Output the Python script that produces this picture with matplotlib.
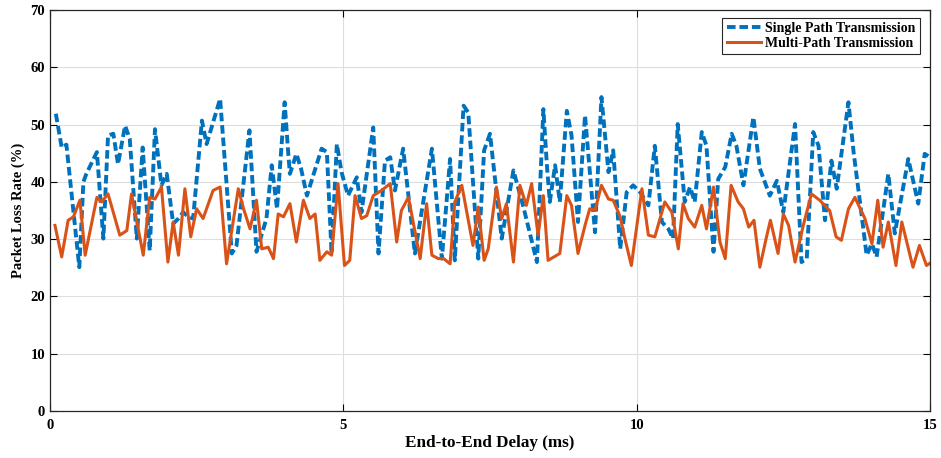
import matplotlib
matplotlib.use("Agg")
import matplotlib.pyplot as plt

plt.rcParams["font.family"] = ["Liberation Serif", "DejaVu Serif"]
plt.rcParams["font.weight"] = "bold"

# single path transmission (delay ms, loss %)
single_x = [0.10, 0.20, 0.28, 0.50, 0.57, 0.62, 0.80, 0.91, 0.99, 1.08, 1.16, 1.28, 1.36,
            1.48, 1.58, 1.70, 1.79, 1.90, 1.99, 2.10, 2.19, 2.27, 2.36, 2.44, 2.59, 2.67,
            2.90, 3.10, 3.18, 3.40, 3.52, 3.69, 3.78, 3.87, 4.00, 4.06, 4.09, 4.20, 4.28,
            4.38, 4.63, 4.72, 4.80, 4.89, 4.97, 5.08, 5.23, 5.31, 5.51, 5.60, 5.71, 5.80,
            5.88, 6.02, 6.22, 6.51, 6.68, 6.82, 6.90, 7.05, 7.13, 7.30, 7.40, 7.50, 7.70,
            7.90, 8.07, 8.30, 8.41, 8.47, 8.52, 8.61, 8.69, 8.81, 8.89, 9.00, 9.12, 9.29,
            9.40, 9.52, 9.60, 9.72, 9.83, 9.94, 10.06, 10.20, 10.31, 10.43, 10.54, 10.62,
            10.70, 10.82, 10.91, 10.99, 11.11, 11.19, 11.31, 11.39, 11.51, 11.62, 11.70,
            11.82, 11.99, 12.10, 12.27, 12.39, 12.50, 12.70, 12.81, 12.90, 13.01, 13.10,
            13.21, 13.32, 13.41, 13.61, 13.70, 13.80, 13.92, 14.01, 14.09, 14.29, 14.40,
            14.63, 14.80, 14.91, 15.00]
single_y = [51.9, 46.0, 46.5, 25.1, 40.0, 41.4, 45.2, 30.1, 48.1, 48.4, 43.1, 49.8, 47.5,
            30.1, 46.0, 28.0, 49.2, 39.4, 41.4, 32.7, 33.6, 34.7, 33.9, 33.6, 50.7, 46.6,
            54.5, 27.5, 28.9, 49.0, 27.8, 33.6, 42.9, 35.3, 53.9, 45.2, 41.4, 44.9, 42.3,
            37.6, 45.8, 45.2, 27.5, 46.6, 41.7, 37.6, 40.8, 34.7, 49.5, 27.5, 43.7, 44.3,
            38.5, 45.8, 27.5, 45.8, 26.6, 44.0, 26.3, 53.3, 52.1, 26.6, 45.5, 48.4, 30.1,
            42.0, 35.6, 26.0, 52.7, 42.9, 36.5, 42.9, 36.5, 52.4, 48.1, 33.0, 51.6, 31.2,
            54.8, 41.7, 45.5, 28.3, 38.2, 39.4, 38.2, 35.9, 46.3, 33.0, 31.8, 30.1,
            50.1, 36.5, 39.1, 36.5, 48.7, 46.3, 27.8, 40.5, 42.6, 48.4, 46.3,
            39.4, 51.3, 42.3, 37.6, 40.2, 34.7, 50.1, 26.0, 26.6, 48.7, 46.3,
            33.3, 43.7, 38.8, 53.9, 45.0, 37.0, 27.2, 29.2, 26.9, 41.4, 31.0,
            44.0, 36.2, 44.9, 44.3]

# multi-path transmission
multi_x = [0.085, 0.20, 0.31, 0.40, 0.51, 0.60, 0.80, 0.88, 0.99, 1.19, 1.31, 1.39, 1.59,
           1.70, 1.79, 1.90, 2.01, 2.10, 2.19, 2.30, 2.40, 2.50, 2.61, 2.78, 2.90, 3.01,
           3.21, 3.30, 3.41, 3.52, 3.61, 3.72, 3.81, 3.89, 3.98, 4.09, 4.20, 4.32, 4.43,
           4.52, 4.60, 4.72, 4.80, 4.91, 5.02, 5.11, 5.20, 5.31, 5.40, 5.51, 5.65, 5.80,
           5.91, 5.99, 6.11, 6.31, 6.42, 6.51, 6.62, 6.71, 6.82, 6.90, 7.02, 7.21, 7.30,
           7.40, 7.47, 7.61, 7.70, 7.78, 7.90, 8.01, 8.12, 8.21, 8.32, 8.41, 8.49, 8.69,
           8.81, 8.89, 9.00, 9.12, 9.20, 9.29, 9.40, 9.52, 9.60, 9.72, 9.80, 9.91, 10.09,
           10.20, 10.31, 10.48, 10.60, 10.71, 10.79, 10.88, 10.99, 11.11, 11.19, 11.31,
           11.42, 11.51, 11.61, 11.73, 11.82, 11.91, 12.00, 12.10, 12.22, 12.28, 12.41,
           12.50, 12.59, 12.70, 12.84, 12.98, 13.12, 13.29, 13.40, 13.49, 13.61, 13.72,
           13.89, 14.01, 14.11, 14.20, 14.29, 14.42, 14.52, 14.71, 14.82, 14.94, 15.00]
multi_y = [32.4, 26.9, 33.3, 33.9, 36.8, 27.2, 37.3, 36.5, 37.9, 30.7, 31.5, 37.9, 27.2,
           37.3, 37.0, 39.1, 26.0, 33.0, 27.2, 38.8, 30.4, 35.3, 33.6, 38.5, 39.1, 25.7,
           38.8, 35.3, 31.8, 36.8, 28.3, 28.6, 26.6, 34.4, 33.9, 36.2, 29.5, 36.8, 33.6,
           34.4, 26.3, 27.8, 27.2, 39.7, 25.4, 26.3, 37.6, 33.6, 34.1, 37.6, 38.5, 39.7,
           29.5, 35.0, 37.3, 26.6, 36.2, 27.2, 26.6, 26.6, 25.7, 36.5, 39.4, 28.9, 35.6,
           26.3, 28.3, 39.1, 33.6, 36.2, 26.0, 39.4, 35.9, 39.7, 30.7, 37.6, 26.3, 27.5,
           37.6, 35.9, 27.5, 32.4, 35.3, 35.0, 39.4, 37.0, 36.8, 33.9, 30.1, 25.4, 38.8,
           30.7, 30.4, 36.5, 34.7, 28.3, 36.2, 33.6, 32.1, 35.9, 31.8, 39.1,
           29.5, 26.6, 39.4, 36.5, 35.3, 32.1, 33.3, 25.1, 30.7, 33.3, 27.5,
           34.4, 32.4, 26.0, 32.4, 37.9, 36.8, 35.0, 30.4, 29.8, 35.3, 37.3,
           33.6, 29.2, 36.8, 28.6, 33.0, 25.4, 33.0, 25.1, 28.9, 25.4, 25.8]

BLUE = "#0072BD"
ORANGE = "#D95319"

fig = plt.figure(figsize=(9.41, 4.58), dpi=100)
ax = fig.add_axes([0.0531, 0.1026, 0.9352, 0.8755])

ax.plot(single_x, single_y, color=BLUE, linestyle=(0, (2.2, 1.0)), linewidth=2.8,
        label="Single Path Transmission")
ax.plot(multi_x, multi_y, color=ORANGE, linestyle="-", linewidth=2.2,
        label="Multi-Path Transmission")

ax.set_xlim(0, 15)
ax.set_ylim(0, 70)
ax.set_xticks([0, 5, 10, 15])
ax.set_yticks(range(0, 71, 10))
ax.tick_params(direction="in", top=True, right=True, labelsize=10.5, length=5, width=0.8)
ax.tick_params(axis="x", pad=6)
for lbl in ax.get_xticklabels() + ax.get_yticklabels():
    lbl.set_fontweight("bold")
ax.grid(True, color="#dedede", linewidth=0.8)
ax.set_axisbelow(True)
for sp in ax.spines.values():
    sp.set_linewidth(0.9)
    sp.set_color("#262626")

ax.set_xlabel("End-to-End Delay (ms)", fontsize=12.3, fontweight="bold", labelpad=2)
ax.set_ylabel("Packet Loss Rate (%)", fontsize=10.5, fontweight="bold", labelpad=4)

leg = ax.legend(loc="upper right", fontsize=10, handlelength=2.5, borderpad=0.3,
                labelspacing=0.15, handletextpad=0.3, borderaxespad=0, fancybox=False,
                framealpha=1, edgecolor="#262626", bbox_to_anchor=(0.9886, 0.980))
leg.get_frame().set_linewidth(0.8)
for t in leg.get_texts():
    t.set_fontweight("bold")

fig.savefig("out.png", dpi=100)
